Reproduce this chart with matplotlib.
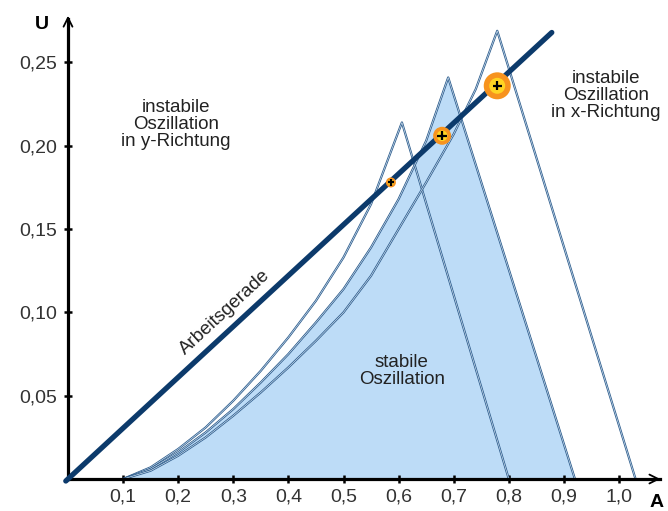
import numpy as np
import matplotlib
matplotlib.use("Agg")
import matplotlib.pyplot as plt
from matplotlib.ticker import FuncFormatter

plt.rcParams['font.family'] = ['Liberation Sans', 'DejaVu Sans']

# Daten
x_ticks = [0.1, 0.2, 0.3, 0.4, 0.5, 0.6, 0.7, 0.8, 0.9, 1.0]
y_ticks = [0.05, 0.10, 0.15, 0.20, 0.25]

# Arbeitsgerade
gerade_A = [-0.004, 0.878]
gerade_U = [-0.0012, 0.268]

# linke Flanken der drei Kurven
k1_A = [0.10, 0.15, 0.20, 0.25, 0.30, 0.35, 0.40, 0.45, 0.50, 0.55, 0.606]
k1_U = [0.0, 0.007, 0.018, 0.031, 0.047, 0.065, 0.085, 0.107, 0.133, 0.165, 0.214]
k2_A = [0.10, 0.15, 0.20, 0.25, 0.30, 0.35, 0.40, 0.45, 0.50, 0.55, 0.60, 0.65, 0.69]
k2_U = [0.0, 0.006, 0.016, 0.028, 0.042, 0.058, 0.075, 0.094, 0.114, 0.139, 0.168, 0.203, 0.241]
k3_A = [0.10, 0.15, 0.20, 0.25, 0.30, 0.35, 0.40, 0.45, 0.50, 0.55, 0.60, 0.65, 0.70, 0.74, 0.779]
k3_U = [0.0, 0.005, 0.014, 0.025, 0.038, 0.052, 0.067, 0.083, 0.100, 0.122, 0.150, 0.178, 0.207, 0.234, 0.269]

# rechte Flanken (Spitze -> Fusspunkt)
r1_A = [0.606, 0.80]
r1_U = [0.214, 0.0]
r2_A = [0.69, 0.92]
r2_U = [0.241, 0.0]
r3_A = [0.779, 1.03]
r3_U = [0.269, 0.0]

# Arbeitspunkte
punkt_A = [0.586, 0.679, 0.779]
punkt_U = [0.178, 0.206, 0.236]
punkt_gr = [52, 168, 378]

fig = plt.figure(figsize=(6.68, 5.11), dpi=100)
ax = fig.add_axes([0, 0, 1, 1])
ax.set_xlim(-0.1234, 1.0889)
ax.set_ylim(-0.0192, 0.2875)

# Flaeche stabile Oszillation
ax.fill(k2_A + r2_A[1:], k2_U + r2_U[1:], color='#bddcf7', zorder=1)

# Kurven (Doppellinie)
umriss = '#2d5c8c'
for ka, ku, ra, ru in [(k1_A, k1_U, r1_A, r1_U), (k2_A, k2_U, r2_A, r2_U), (k3_A, k3_U, r3_A, r3_U)]:
    ax.plot(ka + ra[1:], ku + ru[1:], color=umriss, lw=1.6, zorder=2)
    ax.plot(ka + ra[1:], ku + ru[1:], color='#dcebf8', lw=0.45, zorder=2)

ax.plot(gerade_A, gerade_U, color='#0c3a6b', lw=3.8, solid_capstyle='round', zorder=3)

# Punkte
ax.scatter(punkt_A, punkt_U, s=punkt_gr, color='#f7931e', zorder=4, edgecolors='none')
ax.scatter(punkt_A, punkt_U, s=[g * 0.35 for g in punkt_gr], color='#ffd423', zorder=4, edgecolors='none')
ax.scatter(punkt_A, punkt_U, s=[20, 45, 45], marker='+', color='black', linewidths=1.6, zorder=5)

# Achsen
for s in ['top', 'right']:
    ax.spines[s].set_visible(False)
ax.spines['left'].set_position(('data', 0))
ax.spines['bottom'].set_position(('data', 0))
ax.spines['left'].set_bounds(0, 0.276)
ax.spines['bottom'].set_bounds(0, 1.075)
ax.spines['left'].set_linewidth(2.3)
ax.spines['bottom'].set_linewidth(2.3)
ax.annotate('', xy=(0, 0.2797), xytext=(0, 0.26),
            arrowprops=dict(arrowstyle='->', lw=1.3, color='black', mutation_scale=16))
ax.annotate('', xy=(1.080, 0), xytext=(1.05, 0),
            arrowprops=dict(arrowstyle='->', lw=1.3, color='black', mutation_scale=16))

ax.set_xticks(x_ticks)
ax.set_yticks(y_ticks)
ax.xaxis.set_major_formatter(FuncFormatter(lambda v, p: ('%.1f' % v).replace('.', ',')))
ax.yaxis.set_major_formatter(FuncFormatter(lambda v, p: ('%.2f' % v).replace('.', ',')))
ax.tick_params(direction='inout', length=6, width=1.8, labelsize=14, colors='black')
ax.tick_params(axis='x', pad=4)
ax.tick_params(axis='y', pad=5)
for t in ax.get_xticklabels() + ax.get_yticklabels():
    t.set_color('#333333')

ax.text(-0.047, 0.2725, 'U', fontsize=14, fontweight='bold', ha='center', va='center')
ax.text(1.069, -0.0138, 'A', fontsize=14, fontweight='bold', ha='center', va='center')

# Beschriftungen
ax.text(0.196, 0.213, 'instabile\nOszillation\nin y-Richtung', fontsize=13.5,
        ha='center', va='center', linespacing=1.0, color='#222222')
ax.text(0.976, 0.230, 'instabile\nOszillation\nin x-Richtung', fontsize=13.5,
        ha='center', va='center', linespacing=1.0, color='#222222')
ax.text(0.606, 0.0648, 'stabile\nOszillation', fontsize=13.5,
        ha='center', va='center', linespacing=1.0, color='#222222')
ax.text(0.285, 0.100, 'Arbeitsgerade', fontsize=13.5, rotation=42.7,
        ha='center', va='center', color='#222222')

fig.savefig('out.png', dpi=100)
